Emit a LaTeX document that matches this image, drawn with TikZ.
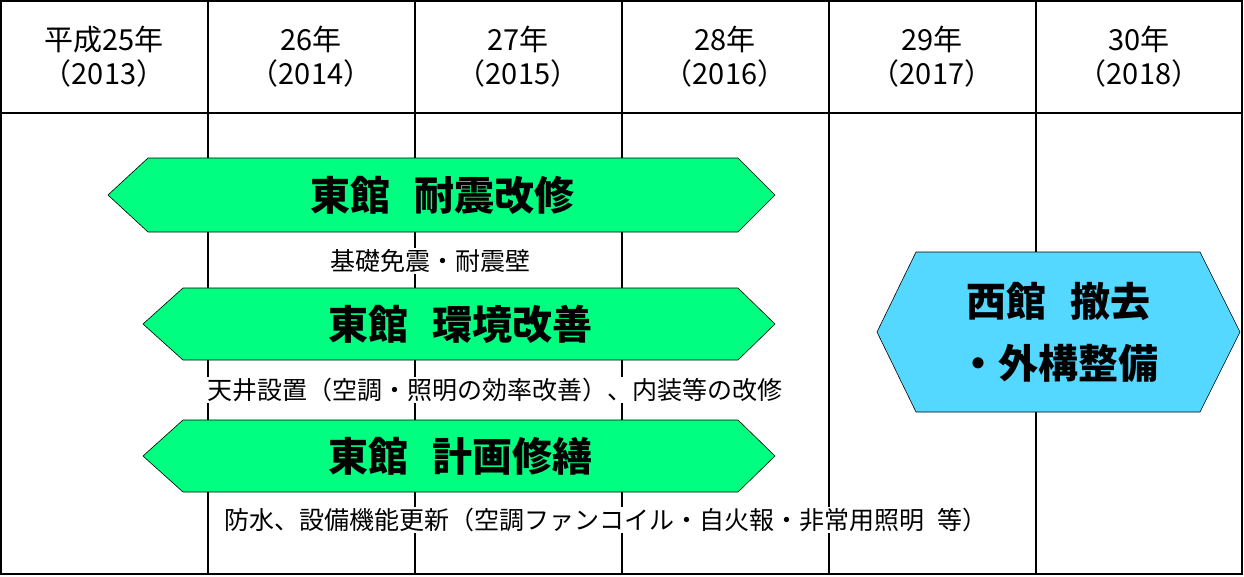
\documentclass[tikz,border=0pt]{standalone}
\usepackage{fontspec}
\setmainfont{Noto Sans CJK JP}
\begin{document}
\begin{tikzpicture}[x=1pt,y=-1pt,
  hdr/.style={align=center,font=\fontsize{29}{34}\selectfont,inner sep=0},
  big/.style={font=\fontsize{40}{46}\selectfont\bfseries,inner sep=0},
  sub/.style={font=\fontsize{25}{30}\selectfont,fill=white,inner sep=1pt},
  shp/.style={draw=black,line width=0.6pt}]
\useasboundingbox (0,0) rectangle (1244,576);
\fill[white] (0,0) rectangle (1244,576);
\foreach \x in {208,415,622,829,1036} \draw[line width=1.2pt] (\x,0) -- (\x,574);
\draw[line width=1.4pt] (1,113) -- (1242,113);
\draw[line width=1.4pt] (1,1) rectangle (1242,574);
\node[hdr] (h1) at (104,57) {平成25年\\（2013）};
\node[hdr] (h2) at (311,57) {26年\\（2014）};
\node[hdr] (h3) at (518,57) {27年\\（2015）};
\node[hdr] (h4) at (725,57) {28年\\（2016）};
\node[hdr] (h5) at (932,57) {29年\\（2017）};
\node[hdr] (h6) at (1139,57) {30年\\（2018）};
\fill[shp,fill={rgb,255:red,0;green,255;blue,128}] (108,195) -- (148,158) -- (738,158) -- (775,195) -- (738,232) -- (148,232) -- cycle;
\fill[shp,fill={rgb,255:red,0;green,255;blue,128}] (143,324) -- (183,288) -- (738,288) -- (775,324) -- (738,360) -- (183,360) -- cycle;
\fill[shp,fill={rgb,255:red,0;green,255;blue,128}] (143,456) -- (183,420) -- (738,420) -- (775,456) -- (738,492) -- (183,492) -- cycle;
\fill[shp,fill={rgb,255:red,85;green,216;blue,255}] (877,332) -- (916,252) -- (1200,252) -- (1240,332) -- (1200,412) -- (916,412) -- cycle;
\node[big] (a1) at (442,195) {東館\hspace{0.6em}耐震改修};
\node[big] (a2) at (460,324) {東館\hspace{0.6em}環境改善};
\node[big] (a3) at (460,456) {東館\hspace{0.6em}計画修繕};
\node[big,align=center,font=\fontsize{40}{62}\selectfont\bfseries] (b) at (1058,332) {西館\hspace{0.6em}撤去\\・外構整備};
\node[sub] (s1) at (430,261) {基礎免震・耐震壁};
\node[sub] (s2) at (495,390) {天井設置（空調・照明の効率改善）、内装等の改修};
\node[sub] (s3) at (606,520) {防水、設備機能更新（空調ファンコイル・自火報・非常用照明\hspace{0.5em}等）};
\end{tikzpicture}
\end{document}
